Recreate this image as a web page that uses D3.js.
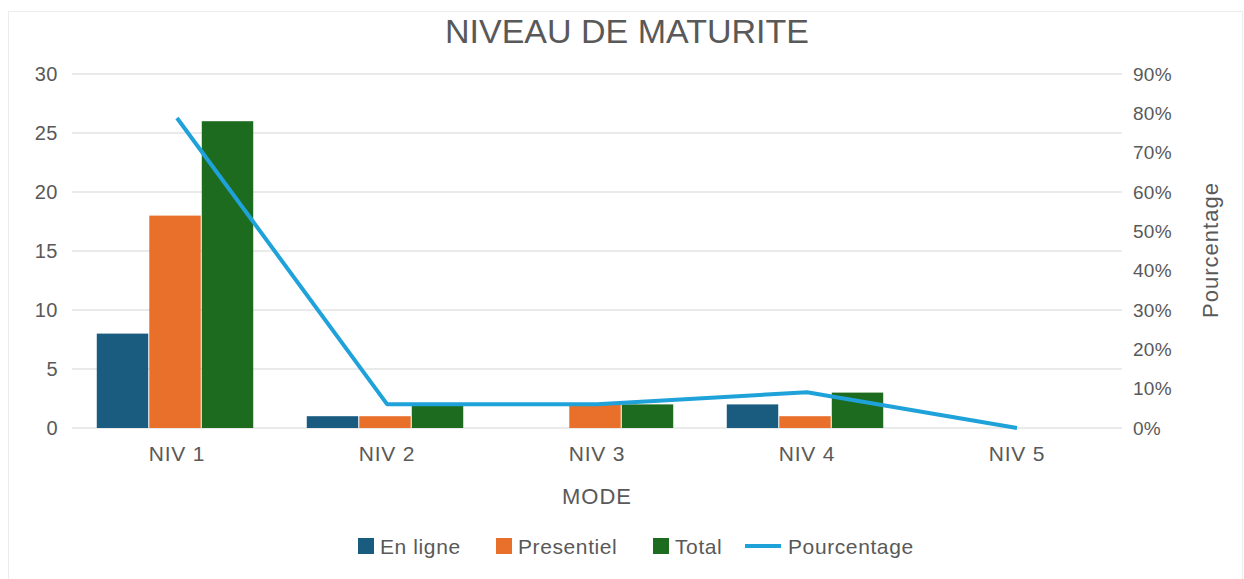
<!DOCTYPE html>
<html>
<head>
<meta charset="utf-8">
<script src="https://cdn.jsdelivr.net/npm/d3@7"></script>
<style>
  body { margin: 0; background: #fff; }
  svg { display: block; font-family: "Liberation Sans", Arial, sans-serif; }
</style>
</head>
<body>
<div id="chart"></div>
<script>
// chart data
var categories = ["NIV 1", "NIV 2", "NIV 3", "NIV 4", "NIV 5"];
var enLigne = [8, 1, 0, 2, 0];
var presentiel = [18, 1, 2, 1, 0];
var total = [26, 2, 2, 3, 0];
var pourcentage = [0.788, 0.0606, 0.0606, 0.0909, 0];
var leftTicks = [0, 5, 10, 15, 20, 25, 30];
var rightTicks = [0, 0.1, 0.2, 0.3, 0.4, 0.5, 0.6, 0.7, 0.8, 0.9];

var seriesNames = ["En ligne", "Presentiel", "Total"];
var seriesColors = ["#1a5b80", "#e8702b", "#1d6b1f"];
var lineColor = "#1fa2d9";
var textColor = "#595959";

var W = 1244, H = 579;
var margin = {top: 74, right: 122, bottom: 151, left: 72},
    width = W - margin.left - margin.right,
    height = H - margin.top - margin.bottom;

var svg = d3.select("#chart").append("svg")
    .attr("width", W)
    .attr("height", H);

// light frame around the chart
svg.append("rect")
    .attr("x", 8.5).attr("y", 11.5)
    .attr("width", W - 10).attr("height", H - 10)
    .attr("fill", "#fff")
    .attr("stroke", "#ececec");

var g = svg.append("g")
    .attr("transform", "translate(" + margin.left + "," + margin.top + ")");

// scales
var x = d3.scaleBand()
    .domain(categories)
    .range([0, width]);

var x1 = d3.scaleBand()
    .domain(seriesNames)
    .range([-2, x.bandwidth() - 2])
    .paddingOuter(0.51)
    .paddingInner(0.02);

var y = d3.scaleLinear()
    .domain([0, 30])
    .range([height, 0]);

var y2 = d3.scaleLinear()
    .domain([0, 0.9])
    .range([height, 0]);

// gridlines
g.selectAll(".grid")
    .data(leftTicks)
    .enter().append("line")
    .attr("x1", 0).attr("x2", width)
    .attr("y1", function (d) { return y(d); })
    .attr("y2", function (d) { return y(d); })
    .attr("stroke", "#e3e3e3")
    .attr("stroke-width", 1.5);

// left axis
var yAxis = g.append("g")
    .call(d3.axisLeft(y).tickValues(leftTicks).tickSize(0).tickPadding(14));
yAxis.select(".domain").remove();
yAxis.selectAll("text")
    .attr("fill", textColor)
    .style("font-size", "20px")
    .style("letter-spacing", "0.5px");

// right axis
var yAxis2 = g.append("g")
    .attr("transform", "translate(" + width + ",0)")
    .call(d3.axisRight(y2).tickValues(rightTicks).tickSize(0).tickPadding(11)
        .tickFormat(d3.format(".0%")));
yAxis2.select(".domain").remove();
yAxis2.selectAll("text")
    .attr("fill", textColor)
    .style("font-size", "19px")
    .style("letter-spacing", "0.3px");

// bottom axis
var xAxis = g.append("g")
    .attr("transform", "translate(0," + height + ")")
    .call(d3.axisBottom(x).tickSize(0).tickPadding(18));
xAxis.select(".domain").remove();
xAxis.selectAll("text")
    .attr("fill", textColor)
    .style("font-size", "21px")
    .style("letter-spacing", "0.8px");

// bars
var series = [enLigne, presentiel, total];
series.forEach(function (vals, si) {
    g.selectAll(".bar" + si)
        .data(vals)
        .enter().append("rect")
        .attr("x", function (d, i) { return x(categories[i]) + x1(seriesNames[si]); })
        .attr("width", x1.bandwidth())
        .attr("y", function (d) { return y(d); })
        .attr("height", function (d) { return height - y(d); })
        .attr("fill", seriesColors[si]);
});

// percentage line
var line = d3.line()
    .x(function (d, i) { return x(categories[i]) + x.bandwidth() / 2; })
    .y(function (d) { return y2(d); });

g.append("path")
    .datum(pourcentage)
    .attr("d", line)
    .attr("fill", "none")
    .attr("stroke", lineColor)
    .attr("stroke-width", 4)
    .attr("stroke-linejoin", "round");

// title
svg.append("text")
    .attr("x", 627).attr("y", 43)
    .attr("text-anchor", "middle")
    .attr("fill", textColor)
    .style("font-size", "34px")
    .text("NIVEAU DE MATURITE");

// x axis title
svg.append("text")
    .attr("x", margin.left + width / 2).attr("y", 504)
    .attr("text-anchor", "middle")
    .attr("fill", textColor)
    .style("font-size", "22px")
    .style("letter-spacing", "1px")
    .text("MODE");

// right axis title
svg.append("text")
    .attr("transform", "translate(1218," + (margin.top + 176) + ") rotate(-90)")
    .attr("text-anchor", "middle")
    .attr("fill", textColor)
    .style("font-size", "22px")
    .style("letter-spacing", "1px")
    .text("Pourcentage");

// legend
var legendItems = [
    {name: "En ligne", color: seriesColors[0], type: "rect", x: 358},
    {name: "Presentiel", color: seriesColors[1], type: "rect", x: 496},
    {name: "Total", color: seriesColors[2], type: "rect", x: 653},
    {name: "Pourcentage", color: lineColor, type: "line", x: 745}
];
var legend = svg.append("g");
legendItems.forEach(function (d) {
    if (d.type === "rect") {
        legend.append("rect")
            .attr("x", d.x).attr("y", 538)
            .attr("width", 16).attr("height", 16)
            .attr("fill", d.color);
        legend.append("text")
            .attr("x", d.x + 22).attr("y", 554)
            .attr("fill", textColor)
            .style("font-size", "21px")
            .style("letter-spacing", "0.6px")
            .text(d.name);
    } else {
        legend.append("line")
            .attr("x1", d.x).attr("x2", d.x + 36)
            .attr("y1", 546).attr("y2", 546)
            .attr("stroke", d.color)
            .attr("stroke-width", 4);
        legend.append("text")
            .attr("x", d.x + 43).attr("y", 554)
            .attr("fill", textColor)
            .style("font-size", "21px")
            .style("letter-spacing", "0.6px")
            .text(d.name);
    }
});
</script>
</body>
</html>
